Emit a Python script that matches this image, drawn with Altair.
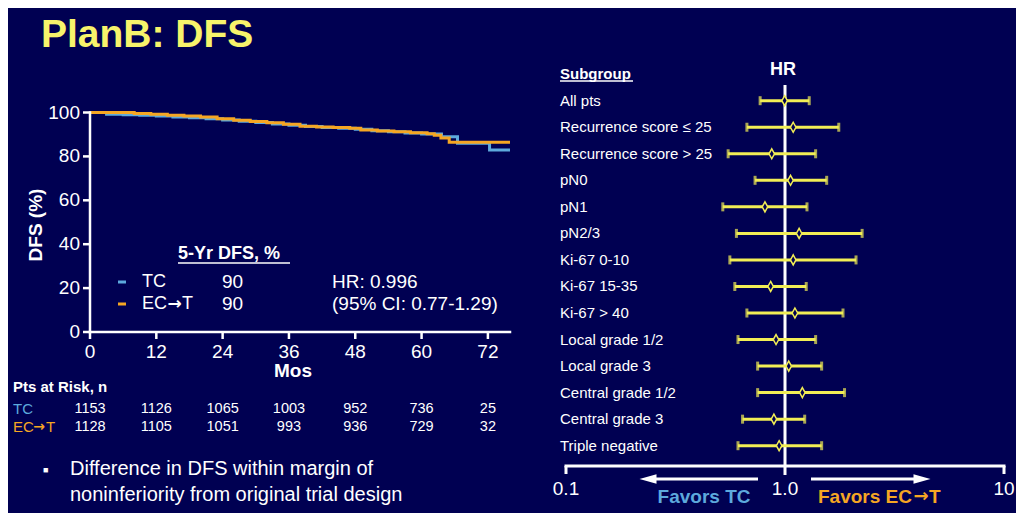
import altair as alt
import pandas as pd

# ---------------- data ----------------
tc_months = [0, 3, 6, 9, 12, 15, 18, 21, 24, 27, 30, 33, 36, 39, 42, 45, 48, 51, 54, 57, 60, 63.6, 66.5, 72.3, 76]
tc_dfs = [100, 99.2, 99.0, 98.8, 98.4, 98.0, 97.6, 97.1, 96.6, 96.0, 95.4, 94.8, 94.2, 93.6, 93.2, 92.8, 92.4, 91.7, 91.2, 90.7, 90.2, 89.0, 86.0, 82.9, 82.9]
ect_months = [0, 8, 11, 14, 17, 20, 23, 26, 29, 32, 35, 38, 41, 44, 47, 49, 52, 55, 58, 61, 62.3, 63.5, 65, 76]
ect_dfs = [100, 99.6, 99.2, 98.8, 98.4, 97.9, 97.2, 96.5, 95.9, 95.3, 94.6, 93.7, 93.4, 93.2, 92.8, 92.0, 91.6, 91.2, 90.8, 90.3, 89.6, 88.4, 86.5, 86.5]

km_x_domain = [0, 76]
km_y_domain = [0, 100]
month_ticks = [0, 12, 24, 36, 48, 60, 72]
dfs_ticks = [0, 20, 40, 60, 80, 100]
risk_tc = ["1153", "1126", "1065", "1003", "952", "736", "25"]
risk_ect = ["1128", "1105", "1051", "993", "936", "729", "32"]

subgroups = ["All pts", "Recurrence score ≤ 25", "Recurrence score > 25", "pN0", "pN1", "pN2/3",
             "Ki-67 0-10", "Ki-67 15-35", "Ki-67 > 40", "Local grade 1/2", "Local grade 3",
             "Central grade 1/2", "Central grade 3", "Triple negative"]
hr_est = [0.996, 1.09, 0.87, 1.06, 0.81, 1.16, 1.09, 0.86, 1.11, 0.91, 1.04, 1.20, 0.89, 0.94]
hr_lo = [0.77, 0.67, 0.55, 0.73, 0.52, 0.60, 0.56, 0.59, 0.67, 0.61, 0.75, 0.75, 0.64, 0.61]
hr_hi = [1.29, 1.76, 1.38, 1.55, 1.26, 2.25, 2.11, 1.25, 1.84, 1.38, 1.47, 1.87, 1.23, 1.47]
hr_domain = [0.1, 10]
hr_ticks = [0.1, 1.0, 10]
hr_tick_labels = ["0.1", "1.0", "10"]

# ---------------- style ----------------
BG = "#000052"
WHITE = "#FFFFFF"
BLUE = "#5DA9DD"
ORANGE = "#F5A623"
YELLOW = "#F2EE55"
TITLE_YELLOW = "#F7F36B"
FONT = "Liberation Sans"
ARROW_FONT = "DejaVu Sans"

KM_X = alt.Scale(domain=km_x_domain, range=[82, 502], nice=False, zero=False)
KM_Y = alt.Scale(domain=km_y_domain, range=[324, 104.5], nice=False, zero=False)
FP_X = alt.Scale(type="log", domain=hr_domain, range=[558, 996], nice=False)
FP_Y = alt.Scale(type="point", domain=subgroups, range=[92.7, 437.7], padding=0)


def kx(f):
    return alt.X(f, type="quantitative", scale=KM_X, axis=None)


def ky(f):
    return alt.Y(f, type="quantitative", scale=KM_Y, axis=None)


def fx(f):
    return alt.X(f, type="quantitative", scale=FP_X, axis=None)


def fy(f):
    return alt.Y(f, type="nominal", scale=FP_Y, axis=None)


def txt(s, x, y, size, color=WHITE, bold=False, align="left", angle=0, font=FONT):
    return alt.Chart(pd.DataFrame({"t": [s]})).mark_text(
        align=align, baseline="middle", font=font, fontSize=size,
        fontWeight="bold" if bold else "normal", color=color, angle=angle
    ).encode(x=alt.value(x), y=alt.value(y), text="t:N")


def arrow_txt(x, y, size, color):
    return txt("→", x, y, size, color, bold=True, align="center", font=ARROW_FONT)


def seg(x1, x2, y1, y2, color=WHITE, w=1.5):
    return alt.Chart(pd.DataFrame({"a": [0]})).mark_rule(color=color, strokeWidth=w).encode(
        x=alt.value(x1), x2=alt.value(x2), y=alt.value(y1), y2=alt.value(y2))


layers = []

# Title
layers.append(txt("PlanB: DFS", 33, 27, 39, TITLE_YELLOW, bold=True))

# ---------------- KM panel ----------------
tc_df = pd.DataFrame({"m": tc_months, "s": tc_dfs})
ect_df = pd.DataFrame({"m": ect_months, "s": ect_dfs})
layers.append(alt.Chart(tc_df).mark_line(interpolate="step-after", color=BLUE, strokeWidth=3)
              .encode(x=kx("m"), y=ky("s")))
layers.append(alt.Chart(ect_df).mark_line(interpolate="step-after", color=ORANGE, strokeWidth=3)
              .encode(x=kx("m"), y=ky("s")))

# axes lines
layers.append(alt.Chart(pd.DataFrame({"x": [km_x_domain[0]], "y": [km_y_domain[0]], "y2": [km_y_domain[1]]}))
              .mark_rule(color=WHITE, strokeWidth=2.5, strokeCap="square")
              .encode(x=kx("x"), y=ky("y"), y2="y2:Q"))
layers.append(alt.Chart(pd.DataFrame({"x": [km_x_domain[0]], "x2": [km_x_domain[1]], "y": [km_y_domain[0]]}))
              .mark_rule(color=WHITE, strokeWidth=2.5, strokeCap="square")
              .encode(x=kx("x"), x2="x2:Q", y=ky("y")))
# ticks
ytick_df = pd.DataFrame({"v": dfs_ticks, "x0": [km_x_domain[0]] * len(dfs_ticks),
                         "lab": [str(v) for v in dfs_ticks]})
xtick_df = pd.DataFrame({"v": month_ticks, "y0": [km_y_domain[0]] * len(month_ticks),
                         "lab": [str(v) for v in month_ticks]})
layers.append(alt.Chart(ytick_df).mark_rule(color=WHITE, strokeWidth=2.5, x2Offset=-7)
              .encode(x=kx("x0"), x2="x0:Q", y=ky("v")))
layers.append(alt.Chart(xtick_df).mark_rule(color=WHITE, strokeWidth=2.5, y2Offset=7)
              .encode(x=kx("v"), y=ky("y0"), y2="y0:Q"))
layers.append(alt.Chart(ytick_df).mark_text(align="right", baseline="middle", dx=-10, font=FONT,
                                            fontSize=19, color=WHITE)
              .encode(x=kx("x0"), y=ky("v"), text="lab:N"))
layers.append(alt.Chart(xtick_df).mark_text(align="center", baseline="middle", dy=20, font=FONT,
                                            fontSize=19, color=WHITE)
              .encode(x=kx("v"), y=ky("y0"), text="lab:N"))
layers.append(txt("DFS (%)", 28, 217, 19, bold=True, align="center", angle=270))
layers.append(txt("Mos", 285, 363, 19, bold=True, align="center"))

# legend inside KM
layers.append(txt("5-Yr DFS, %", 170, 246, 18, bold=True))
layers.append(seg(170, 282, 255, 255, WHITE, 1.5))
layers.append(seg(110, 118, 274, 274, BLUE, 3))
layers.append(seg(110, 118, 296, 296, ORANGE, 3))
layers.append(txt("TC", 134, 274, 18))
layers.append(txt("EC", 134, 296, 18))
layers.append(arrow_txt(166.5, 296, 17, WHITE))
layers.append(txt("T", 174, 296, 18))
layers.append(txt("90", 214, 274, 19))
layers.append(txt("90", 214, 296, 19))
layers.append(txt("HR: 0.996", 324, 274, 19))
layers.append(txt("(95% CI: 0.77-1.29)", 324, 296, 19))

# risk table
layers.append(txt("Pts at Risk, n", 5, 379, 15, bold=True))
layers.append(txt("TC", 5, 401, 15, BLUE))
layers.append(txt("EC", 5, 419, 15, ORANGE))
layers.append(arrow_txt(31, 419, 14, ORANGE))
layers.append(txt("T", 38, 419, 15, ORANGE))
layers.append(alt.Chart(pd.DataFrame({"m": month_ticks, "n": risk_tc}))
              .mark_text(align="center", baseline="middle", font=FONT, fontSize=14.5, color=WHITE)
              .encode(x=kx("m"), y=alt.value(401), text="n:N"))
layers.append(alt.Chart(pd.DataFrame({"m": month_ticks, "n": risk_ect}))
              .mark_text(align="center", baseline="middle", font=FONT, fontSize=14.5, color=WHITE)
              .encode(x=kx("m"), y=alt.value(419), text="n:N"))

# bullet text
layers.append(txt("■", 35, 462, 9))
layers.append(txt("Difference in DFS within margin of", 62, 461, 20))
layers.append(txt("noninferiority from original trial design", 62, 487, 20))

# ---------------- forest plot ----------------
fp_df = pd.DataFrame({"g": subgroups, "hr": hr_est, "lo": hr_lo, "hi": hr_hi})
layers.append(txt("Subgroup", 552, 66, 15, bold=True))
layers.append(seg(552, 625, 73, 73, WHITE, 1.5))
layers.append(txt("HR", 775, 62, 18, bold=True, align="center"))
layers.append(alt.Chart(fp_df).mark_text(align="left", baseline="middle", font=FONT, fontSize=15, color=WHITE)
              .encode(x=alt.value(552), y=fy("g"), text="g:N"))

# reference line at HR = 1
layers.append(alt.Chart(pd.DataFrame({"x": [hr_ticks[1]]})).mark_rule(color=WHITE, strokeWidth=3)
              .encode(x=fx("x"), y=alt.value(77), y2=alt.value(467)))

layers.append(alt.Chart(fp_df).mark_rule(color=YELLOW, strokeWidth=3)
              .encode(x=fx("lo"), x2="hi:Q", y=fy("g")))
layers.append(alt.Chart(fp_df).mark_tick(color=YELLOW, orient="vertical", size=9, thickness=3)
              .encode(x=fx("lo"), y=fy("g")))
layers.append(alt.Chart(fp_df).mark_tick(color=YELLOW, orient="vertical", size=9, thickness=3)
              .encode(x=fx("hi"), y=fy("g")))
layers.append(alt.Chart(fp_df).mark_point(shape="M0,-1L0.55,0L0,1L-0.55,0Z", size=100, filled=True,
                                          fill=BG, stroke=YELLOW, strokeWidth=1.5, opacity=1)
              .encode(x=fx("hr"), y=fy("g")))

# forest x axis
layers.append(alt.Chart(pd.DataFrame({"a": [hr_domain[0]], "b": [hr_domain[1]]}))
              .mark_rule(color=WHITE, strokeWidth=3, strokeCap="square")
              .encode(x=fx("a"), x2="b:Q", y=alt.value(458)))
layers.append(alt.Chart(pd.DataFrame({"v": hr_domain})).mark_rule(color=WHITE, strokeWidth=3)
              .encode(x=fx("v"), y=alt.value(458), y2=alt.value(466)))
layers.append(alt.Chart(pd.DataFrame({"v": hr_ticks, "lab": hr_tick_labels}))
              .mark_text(align="center", baseline="middle", font=FONT, fontSize=19, color=WHITE)
              .encode(x=fx("v"), y=alt.value(481), text="lab:N"))

# arrows
layers.append(seg(647, 750, 471, 471, WHITE, 3))
layers.append(seg(803, 912, 471, 471, WHITE, 3))
layers.append(alt.Chart(pd.DataFrame({"a": [0]})).mark_point(shape="M-1,0L1,-0.55L1,0.55Z", size=289,
                                                             filled=True, color=WHITE, opacity=1)
              .encode(x=alt.value(640), y=alt.value(471)))
layers.append(alt.Chart(pd.DataFrame({"a": [0]})).mark_point(shape="M1,0L-1,-0.55L-1,0.55Z", size=289,
                                                             filled=True, color=WHITE, opacity=1)
              .encode(x=alt.value(914), y=alt.value(471)))
layers.append(txt("Favors TC", 696, 489, 19, BLUE, bold=True, align="center"))
layers.append(txt("Favors EC", 810, 489, 19, ORANGE, bold=True))
layers.append(arrow_txt(913, 489, 18, ORANGE))
layers.append(txt("T", 921, 489, 19, ORANGE, bold=True))

chart = alt.layer(*layers).resolve_scale(x="independent", y="independent").properties(
    width=1008, height=505, autosize=alt.AutoSizeParams(type="none"), padding=0, background=BG
).configure_view(stroke=None)

chart.save("out.html", embed_options={"renderer": "svg", "actions": False})
